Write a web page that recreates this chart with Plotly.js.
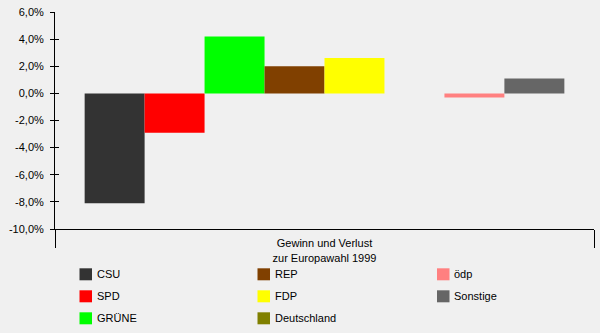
<!DOCTYPE html>
<html>
<head>
<meta charset="utf-8">
<script src="https://cdn.plot.ly/plotly-3.0.1.min.js"></script>
<style>html,body{margin:0;padding:0;background:#f0f0f0;}#chart{width:600px;height:333px;}</style>
</head>
<body>
<div id="chart"></div>
<script>
const category = "Gewinn und Verlust<br>zur Europawahl 1999";
const parties = ["CSU", "SPD", "GRÜNE", "REP", "FDP", "Deutschland", "ödp", "Sonstige"];
const changes = [-8.1, -2.9, 4.2, 2.0, 2.6, 0, -0.3, 1.1];
const colors = ["#333333", "#ff0000", "#00ff00", "#804000", "#ffff00", "#808000", "#ff8080", "#666666"];
const yTicks = [-10, -8, -6, -4, -2, 0, 2, 4, 6];
const yTickText = yTicks.map(v => v.toFixed(1).replace(".", ",") + "%");

const W = 600, H = 333, L = 55, R = 6, T = 12, B = 104;
const pw = W - L - R, ph = H - T - B;
const px = x => (x - L) / pw;
const py = y => (H - B - y) / ph;

const traces = parties.map((p, i) => ({
  type: "bar", name: p, x: [category], y: [changes[i]],
  marker: {color: colors[i], line: {width: 0}},
  hoverinfo: "name+y"
}));
traces.push({type: "scatter", x: [category], y: [0], yaxis: "y2", mode: "none", showlegend: false, hoverinfo: "skip"});

const colX = [79.5, 257.5, 437];
const textX = [95, 273, 452];
const rowY = [274.3, 296.3, 318.3];
const shapes = [], annotations = [];
parties.forEach((p, i) => {
  const c = Math.floor(i / 3), r = i % 3;
  shapes.push({type: "rect", xref: "paper", yref: "paper",
    x0: px(colX[c]), x1: px(colX[c] + 12.5), y0: py(rowY[r] - 6), y1: py(rowY[r] + 6),
    fillcolor: colors[i], line: {width: 0}});
  annotations.push({xref: "paper", yref: "paper", x: px(textX[c]), y: py(rowY[r]),
    xanchor: "left", yanchor: "middle", showarrow: false, text: p,
    font: {family: "Arial, Liberation Sans, sans-serif", size: 11, color: "#000"}});
});

const layout = {
  width: W, height: H,
  margin: {l: L, r: R, t: T, b: B, pad: 0},
  paper_bgcolor: "#f0f0f0", plot_bgcolor: "#f0f0f0",
  font: {family: "Arial, Liberation Sans, sans-serif", size: 11, color: "#000"},
  showlegend: false,
  barmode: "group", bargap: 0.11, bargroupgap: 0,
  xaxis: {type: "category", showline: true, linecolor: "#000", linewidth: 1,
    ticks: "outside", tickson: "boundaries", ticklen: 18, tickcolor: "#000", tickwidth: 1,
    ticklabelstandoff: 4, showgrid: false, zeroline: false, fixedrange: true},
  yaxis: {range: [-10, 6], tickvals: yTicks, ticktext: yTickText,
    showline: true, linecolor: "#000", linewidth: 1, ticks: "outside", ticklen: 4,
    tickcolor: "#000", tickwidth: 1, ticklabelstandoff: 4, showgrid: false, zeroline: false, fixedrange: true},
  yaxis2: {range: [-10, 6], tickvals: yTicks, overlaying: "y", side: "left",
    showticklabels: false, ticks: "inside", ticklen: 4, tickcolor: "#000", tickwidth: 1,
    showline: false, showgrid: false, zeroline: false, fixedrange: true},
  shapes: shapes, annotations: annotations
};
Plotly.newPlot("chart", traces, layout, {displayModeBar: false, staticPlot: true});
</script>
</body>
</html>
